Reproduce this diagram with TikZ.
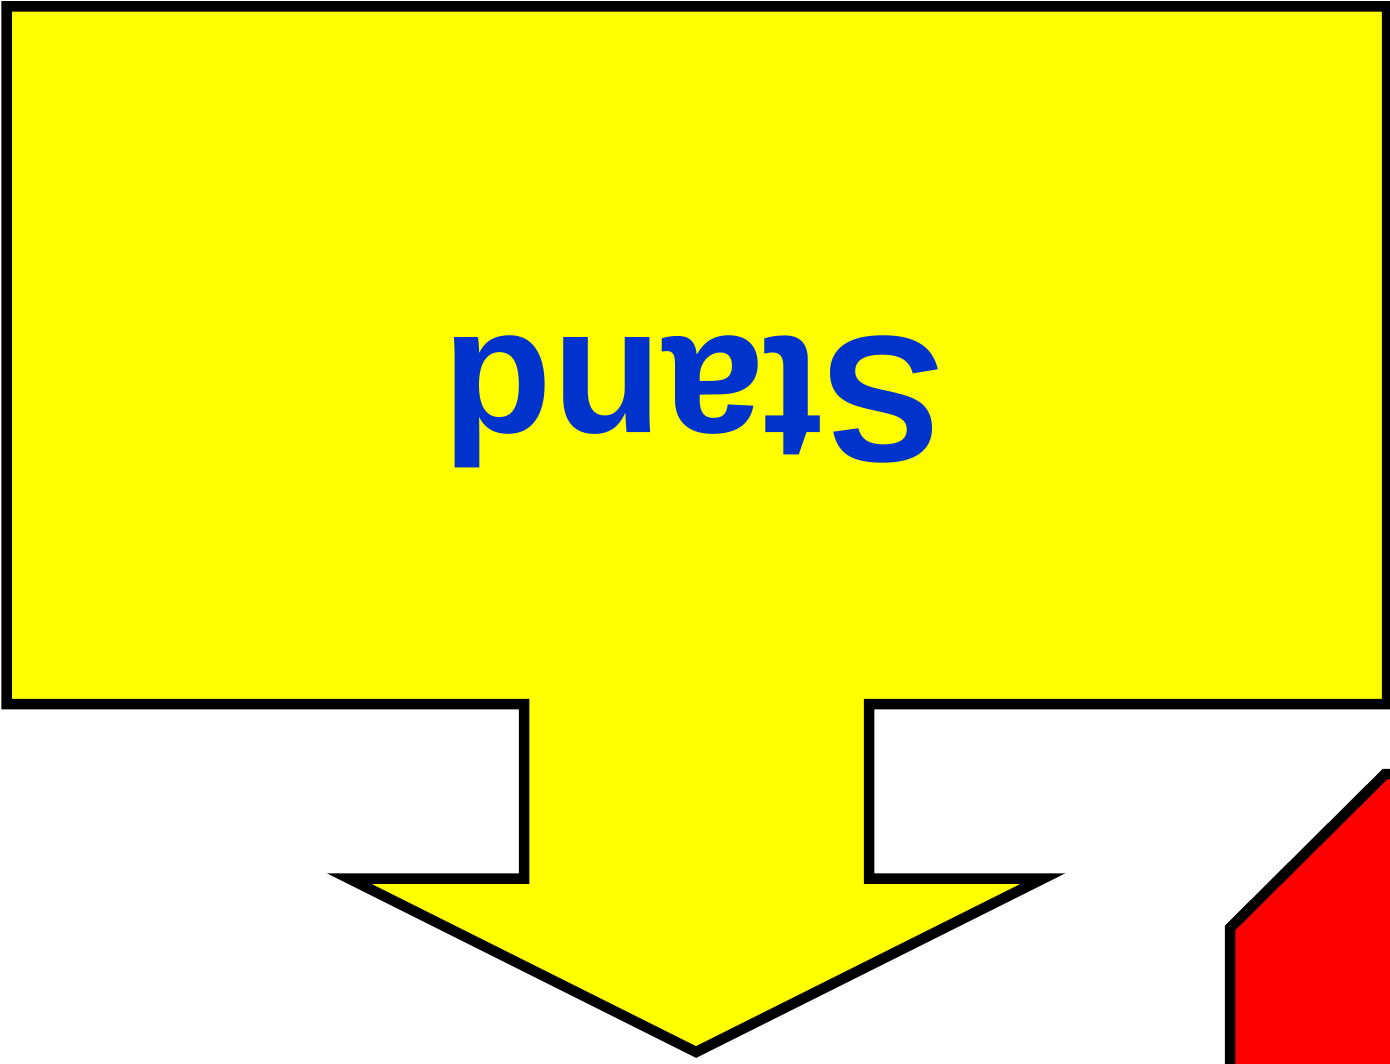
\documentclass[tikz,border=0pt]{standalone}
\usepackage{fontspec}
\setmainfont{Liberation Sans}
\definecolor{signyellow}{RGB}{255,255,0}
\definecolor{signred}{RGB}{255,0,0}
\definecolor{textblue}{RGB}{0,51,204}
\begin{document}
\begin{tikzpicture}[x=1pt,y=-1pt,
  outline/.style={draw=black,line width=10.5pt,line join=miter,miter limit=10},
  label/.style={text=textblue,font=\fontsize{180}{200}\selectfont\bfseries,inner sep=0pt}]
\useasboundingbox (0,0) rectangle (1390,1064);
\clip (0,0) rectangle (1390,1064);
% red octagon (partly visible)
\path[outline,fill=signred] (1385,774) -- (1604,774) -- (1759,929) -- (1759,1148) -- (1604,1303) -- (1385,1303) -- (1230,1148) -- (1230,928) -- cycle;
% yellow callout with down arrow
\path[outline,fill=signyellow] (6.5,6.5) -- (1387,6.5) -- (1387,704) -- (869,704) -- (869,878.5) -- (1043,878.5) -- (696,1052) -- (349,878.5) -- (524,878.5) -- (524,704) -- (6.5,704) -- cycle;
\node[label,anchor=base,rotate=180] (stand) at (693,338) {Stand};
\end{tikzpicture}
\end{document}
